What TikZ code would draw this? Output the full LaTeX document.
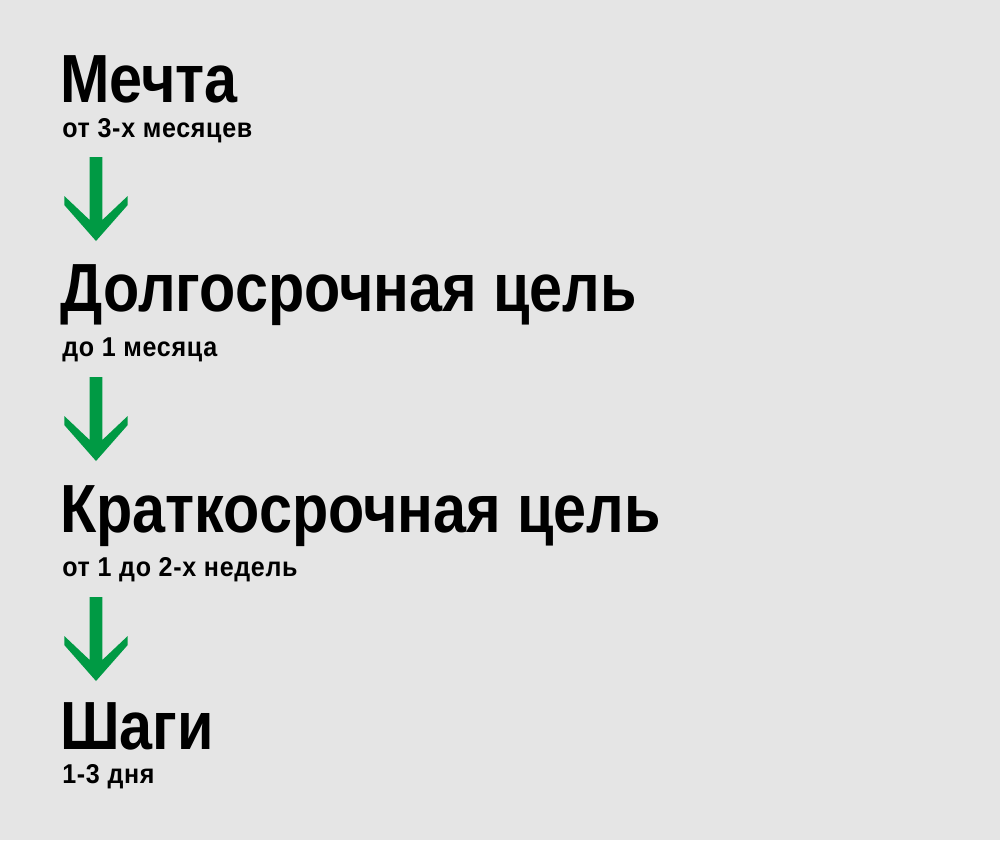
\documentclass[tikz,border=0pt]{standalone}
\usepackage{fontspec}
\setmainfont{Liberation Sans}[FakeStretch=0.87]
\newfontfamily\ketfont{Liberation Sans}[FakeStretch=0.92,LetterSpace=2.5]
\usepackage{xcolor}
\usetikzlibrary{calc}
\definecolor{latar}{RGB}{229,229,229}
\definecolor{hijau}{RGB}{0,154,68}
\tikzset{
  judul/.style={anchor=base west, inner sep=0pt, text depth=0pt, font=\fontsize{38.8}{40}\selectfont\bfseries},
  ket/.style={anchor=base west, inner sep=0pt, font=\ketfont\fontsize{15.5}{17}\selectfont\bfseries}
}
\begin{document}
\begin{tikzpicture}[x=0.02cm, y=-0.02cm]
        %LATAR
        \fill[latar] (0,0) rectangle (1000,840);
        %KOORDINAT
        \coordinate (A) at (96,157);
        \coordinate (B) at (96,377);
        \coordinate (C) at (96,597);
        %JUDUL
        \node[judul] (M) at (60,102) {Мечта};
        \node[judul] (D) at (60,311) {Долгосрочная цель};
        \node[judul] (K) at (60,532) {Краткосрочная цель};
        \node[judul] (S) at (60,749) {Шаги};
        %KETERANGAN
        \node[ket] (m) at (62,137) {от 3-х месяцев};
        \node[ket] (d) at (62,356) {до 1 месяца};
        \node[ket] (k) at (62,576) {от 1 до 2-х недель};
        \node[ket] (s) at (62,783) {1-3 дня};
        %PANAH
        \foreach \P in {A,B,C}
          \fill[hijau] ($(\P)+(-6.3,0)$) -- ++(12.6,0) -- ++(0,63) -- ++(25.4,-24) -- ++(0,9) -- ++(-31.7,36) -- ++(-31.7,-36) -- ++(0,-9) -- ++(25.4,24) -- cycle;
    \end{tikzpicture}
\end{document}
